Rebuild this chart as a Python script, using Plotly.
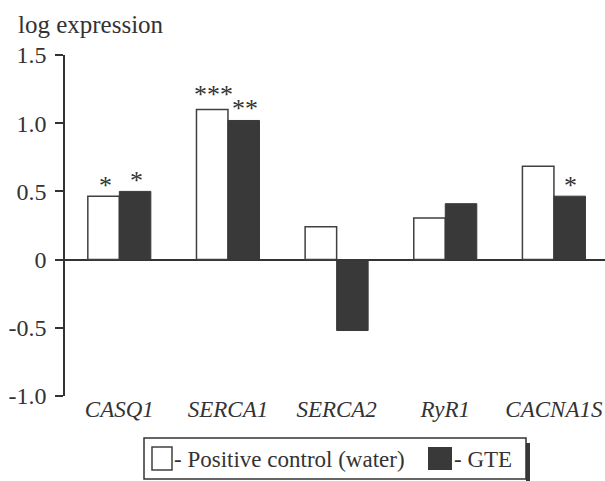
import plotly.graph_objects as go

genes = ["CASQ1", "SERCA1", "SERCA2", "RyR1", "CACNA1S"]
water = [0.465, 1.10, 0.24, 0.305, 0.685]
gte = [0.50, 1.02, -0.52, 0.41, 0.465]
water_sig = ["*", "***", "", "", ""]
gte_sig = ["*", "**", "", "", "*"]
ytick_vals = [-1.0, -0.5, 0, 0.5, 1.0, 1.5]
ytick_text = ["-1.0", "-0.5", "0", "0.5", "1.0", "1.5"]
legend_labels = ["- Positive control (water)", "- GTE"]

INK = "#333333"
DARK = "#393939"
FONT = "Liberation Serif, Times New Roman, Times, DejaVu Serif, serif"

W, H = 605, 481
PL, PT, PR, PB = 65, 55, 605, 396  # plot area in pixels
L, T, R, B = PL, PT, W - PR, H - PB
PW, PH = PR - PL, PB - PT


def px(x):
    return (x - PL) / PW


def py(y):
    return (PB - y) / PH


fig = go.Figure()
fig.add_trace(go.Bar(x=genes, y=water, name=legend_labels[0], hoverinfo="skip",
                     marker=dict(color="white", line=dict(color="#404040", width=1.5))))
fig.add_trace(go.Bar(x=genes, y=gte, name=legend_labels[1], hoverinfo="skip",
                     marker=dict(color=DARK, line=dict(color=DARK, width=1))))

lift = {"*": 0, "**": 1, "***": 5}
annotations = []
for i, g in enumerate(genes):
    for vals, sig, dx in ((water, water_sig, -14), (gte, gte_sig, 17)):
        if sig[i]:
            annotations.append(dict(x=g, y=vals[i], text=sig[i], showarrow=False,
                                    xref="x", yref="y", xanchor="center", yanchor="bottom",
                                    xshift=dx, yshift=-6 + lift[sig[i]],
                                    font=dict(family=FONT, size=26, color=INK)))

annotations.append(dict(x=px(16), y=py(24), xref="paper", yref="paper", text="log expression",
                        showarrow=False, xanchor="left", yanchor="middle",
                        font=dict(family=FONT, size=25, color=INK)))

# legend drawn manually
shapes = [
    dict(type="rect", xref="paper", yref="paper", x0=px(526), x1=px(530), y0=py(481), y1=py(443),
         fillcolor=DARK, line=dict(width=0)),
    dict(type="rect", xref="paper", yref="paper", x0=px(144), x1=px(526), y0=py(479), y1=py(438),
         fillcolor="white", line=dict(color=INK, width=1.5)),
    dict(type="rect", xref="paper", yref="paper", x0=px(152), x1=px(172), y0=py(470), y1=py(447),
         fillcolor="white", line=dict(color="#404040", width=1.5)),
    dict(type="rect", xref="paper", yref="paper", x0=px(428), x1=px(452), y0=py(470), y1=py(447),
         fillcolor=DARK, line=dict(width=0)),
]
annotations.append(dict(x=px(172), y=py(459), xref="paper", yref="paper", text=legend_labels[0],
                        showarrow=False, xanchor="left", yanchor="middle",
                        font=dict(family=FONT, size=23, color=INK)))
annotations.append(dict(x=px(452), y=py(459), xref="paper", yref="paper", text=legend_labels[1],
                        showarrow=False, xanchor="left", yanchor="middle",
                        font=dict(family=FONT, size=23, color=INK)))

fig.update_layout(
    width=W, height=H,
    margin=dict(l=L, r=R, t=T, b=B, pad=0),
    paper_bgcolor="white", plot_bgcolor="white",
    barmode="group", bargap=0.42, bargroupgap=0,
    showlegend=False, hovermode=False,
    annotations=annotations, shapes=shapes,
    font=dict(family=FONT, color=INK),
)
fig.update_xaxes(range=[-0.5, 4.47], showgrid=False, showline=False, ticks="",
                 tickfont=dict(family=FONT, size=23, color=INK, style="italic"),
                 ticklabelstandoff=-3, zeroline=False)
fig.update_yaxes(range=[-1.0, 1.5], tickvals=ytick_vals, ticktext=ytick_text,
                 showgrid=False, showline=True, linecolor=INK, linewidth=1.5,
                 ticks="outside", ticklen=8, tickwidth=1.5, tickcolor=INK,
                 tickfont=dict(family=FONT, size=24, color=INK), ticklabelstandoff=4,
                 zeroline=True, zerolinecolor=INK, zerolinewidth=1.5)

fig.write_html("out.html", config={"displayModeBar": False},
               post_script="document.body.style.margin='0';document.body.style.overflow='hidden';")
